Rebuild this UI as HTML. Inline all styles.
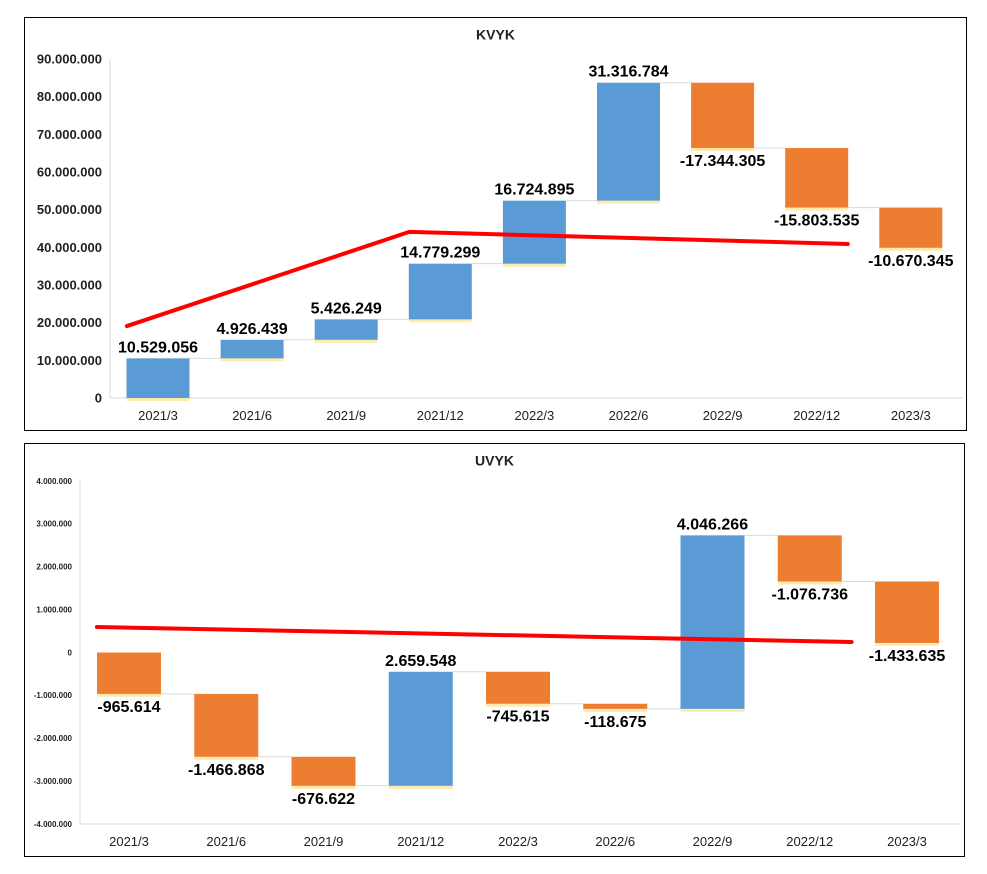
<!DOCTYPE html>
<html><head><meta charset="utf-8"><style>
body{margin:0;background:#fff;width:987px;height:874px;overflow:hidden;font-family:"Liberation Sans","DejaVu Sans",sans-serif}
svg{position:absolute;left:0;top:0}
text{font-family:"Liberation Sans","DejaVu Sans",sans-serif}
</style></head><body>
<svg id="svg" width="987" height="874"></svg>
<script>
const categories=["2021/3","2021/6","2021/9","2021/12","2022/3","2022/6","2022/9","2022/12","2023/3"];
const kvykDeltas=[10529056,4926439,5426249,14779299,16724895,31316784,-17344305,-15803535,-10670345];
const kvykLabels=["10.529.056","4.926.439","5.426.249","14.779.299","16.724.895","31.316.784","-17.344.305","-15.803.535","-10.670.345"];
const kvykTicks=[0,10000000,20000000,30000000,40000000,50000000,60000000,70000000,80000000,90000000];
const kvykTickLabels=["0","10.000.000","20.000.000","30.000.000","40.000.000","50.000.000","60.000.000","70.000.000","80.000.000","90.000.000"];
const kvykTrendX=[-0.33,2.67,7.33];
const kvykTrendY=[19100000,44100000,40900000];
const uvykDeltas=[-965614,-1466868,-676622,2659548,-745615,-118675,4046266,-1076736,-1433635];
const uvykLabels=["-965.614","-1.466.868","-676.622","2.659.548","-745.615","-118.675","4.046.266","-1.076.736","-1.433.635"];
const uvykTicks=[-4000000,-3000000,-2000000,-1000000,0,1000000,2000000,3000000,4000000];
const uvykTickLabels=["-4.000.000","-3.000.000","-2.000.000","-1.000.000","0","1.000.000","2.000.000","3.000.000","4.000.000"];
const uvykTrendX=[-0.33,7.43];
const uvykTrendY=[594000,245000];

const svg=document.getElementById('svg');
const NS='http://www.w3.org/2000/svg';
function mk(tag,attrs,parent){const e=document.createElementNS(NS,tag);for(const k in attrs)e.setAttribute(k,attrs[k]);(parent||svg).appendChild(e);return e;}

function chart(cfg){
  const g=mk('g',{});
  
  
  const fr=mk('rect',{x:cfg.fx,y:cfg.fy,width:cfg.fw,height:cfg.fh,fill:'#fff',stroke:'#000','stroke-width':1},g);
  
  
  const t=mk('text',{x:cfg.fx+cfg.fw/2,y:cfg.fy+22,'text-anchor':'middle','font-size':14,'font-weight':'bold',fill:'#222'},g);
  t.textContent=cfg.title;
  
  
  const Y=v=>cfg.y0-v*cfg.pxPer;
  const X=i=>cfg.x0+i*cfg.step;
  const ya=mk('line',{x1:cfg.axisX,x2:cfg.axisX,y1:Y(cfg.ticks[cfg.ticks.length-1]),y2:Y(cfg.ticks[0]),stroke:'#d9d9d9'},g);
  
  
  const xa=mk('line',{x1:cfg.axisX,x2:cfg.axisEnd,y1:Y(cfg.ticks[0]),y2:Y(cfg.ticks[0]),stroke:'#d9d9d9'},g);
  
  
  cfg.ticks.forEach((v,i)=>{
    const tl=mk('text',{x:cfg.axisX-8,y:Y(v)+cfg.tickFs*0.35,'text-anchor':'end','font-size':cfg.tickFs,'font-weight':'bold',fill:'#222'},g);
    tl.textContent=cfg.tickLabels[i];
    
    
  });
  categories.forEach((c,i)=>{
    const cl=mk('text',{x:X(i),y:Y(cfg.ticks[0])+22,'text-anchor':'middle','font-size':13,fill:'#222'},g);
    cl.textContent=c;
    
    
  });
  let cum=0;
  cfg.deltas.forEach((d,i)=>{
    const a=cum,b=cum+d;cum=b;
    const top=Y(Math.max(a,b)),bot=Y(Math.min(a,b));
    if(i<cfg.deltas.length-1){
      const cn=mk('line',{x1:X(i)+cfg.bw/2,x2:X(i+1)-cfg.bw/2,y1:Y(b),y2:Y(b),stroke:'#d9d9d9'},g);
      
      
    }
    const gl=mk('rect',{x:X(i)-cfg.bw/2,y:bot-1,width:cfg.bw,height:4,fill:'#ffe699',opacity:0.8},g);
    
    
    const r=mk('rect',{x:X(i)-cfg.bw/2,y:top,width:cfg.bw,height:Math.max(bot-top,1),fill:d>=0?'#5b9bd5':'#ed7d31'},g);
    
    
    const lt=mk('text',{x:X(i),y:d>=0?top-6:bot+18,'text-anchor':'middle','font-size':16,'font-weight':'bold',fill:'#000'},g);
    lt.textContent=cfg.labels[i];
    
    
  });
  const pts=cfg.trendX.map((x,i)=>X(x)+','+Y(cfg.trendY[i])).join(' ');
  const tr=mk('polyline',{points:pts,fill:'none',stroke:'#ff0000','stroke-width':4,'stroke-linecap':'round','stroke-linejoin':'round'},g);
  
  
}
chart({name:'kvyk',title:'KVYK',fx:24.5,fy:17.5,fw:942,fh:413,y0:398,pxPer:339/90000000,x0:158,step:94.1,bw:63,axisX:110,axisEnd:962,tickFs:13,deltas:kvykDeltas,labels:kvykLabels,ticks:kvykTicks,tickLabels:kvykTickLabels,trendX:kvykTrendX,trendY:kvykTrendY});
chart({name:'uvyk',title:'UVYK',fx:24.5,fy:443.5,fw:940,fh:413,y0:652.5,pxPer:343/8000000,x0:129,step:97.25,bw:64,axisX:80,axisEnd:960,tickFs:8,deltas:uvykDeltas,labels:uvykLabels,ticks:uvykTicks,tickLabels:uvykTickLabels,trendX:uvykTrendX,trendY:uvykTrendY});
</script>
</body></html>
